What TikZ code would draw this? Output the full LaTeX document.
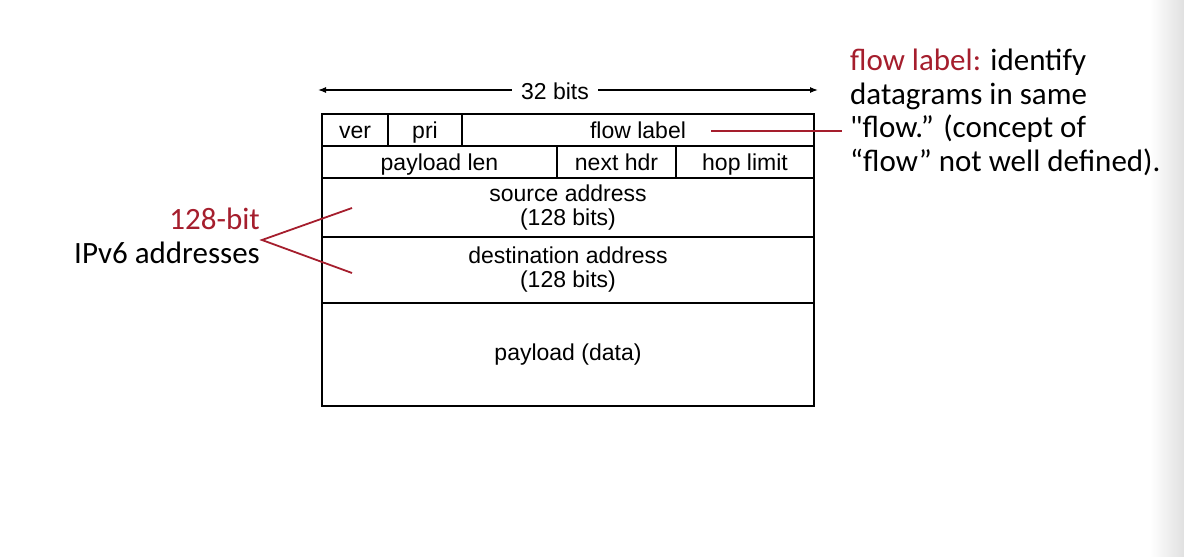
\documentclass[tikz,border=0pt]{standalone}
\usepackage{fontspec}
\setmainfont{Liberation Sans}
\newfontfamily\notefont{Carlito}
\usetikzlibrary{positioning,arrows.meta}
\definecolor{flowred}{RGB}{165,30,45}
\tikzset{field/.style={draw, line width=1.8pt, inner sep=0pt, outer sep=0pt, align=center,
		font=\fontsize{23}{24}\selectfont},
	cell/.style={minimum height=32pt, text height=18pt, text depth=1pt},
	note/.style={inner sep=0pt, align=left, font=\notefont\fontsize{31}{33.5}\selectfont},
	pointer/.style={draw=flowred, line width=1.8pt}}

\begin{document}
\begin{tikzpicture}[x=1pt, y=-1pt]
	\useasboundingbox (0,0) rectangle (1184,557);
	\shade[left color=white, right color=black!12] (1150,0) rectangle (1184,557);

	\node[font=\fontsize{23}{24}\selectfont, inner sep=9pt] (bits) at (555,91) {32 bits};
	\coordinate (bitsL) at (318,90);
	\coordinate (bitsR) at (818,90);
	\draw[-{Latex[length=8pt,width=6pt]}, line width=1.2pt] (bits.west |- bitsL) -- (bitsL);
	\draw[-{Latex[length=8pt,width=6pt]}, line width=1.2pt] (bits.east |- bitsR) -- (bitsR);

	\node[field, cell, minimum width=66pt, anchor=north west] (ver) at (322,114) {ver};
	\node[field, cell, minimum width=74pt, right=0pt of ver] (pri) {pri};
	\node[field, cell, minimum width=352pt, right=0pt of pri] (flow) {flow label};

	\node[field, cell, minimum width=235pt, anchor=north west] (len) at (ver.south west) {payload len};
	\node[field, cell, minimum width=119pt, right=0pt of len] (next) {next hdr};
	\node[field, cell, minimum width=138pt, right=0pt of next] (hop) {hop limit};

	\node[field, minimum width=492pt, minimum height=59pt, anchor=north west] (src) at (len.south west)
		{source address\\(128 bits)};
	\node[field, minimum width=492pt, minimum height=66pt, anchor=north west] (dst) at (src.south west)
		{destination address\\(128 bits)};
	\node[field, minimum width=492pt, minimum height=103pt, anchor=north west] (data) at (dst.south west)
		{payload (data)};

	\node[note, anchor=base west] (flownote) at (850,171)
		{\textcolor{flowred}{flow label:} identify\\datagrams in same\\"flow.” (concept of\\“flow” not well defined).};
	\coordinate (flowtip) at (711,131);
	\draw[pointer] (flowtip) -- ([xshift=-8pt]flownote.west |- flowtip);

	\node[note, anchor=base east, text=flowred] (bitlen) at (260,229) {128-bit};
	\node[note, anchor=base east] (addrs) at (260,263) {IPv6 addresses};
	\coordinate (fork) at (262,240);
	\coordinate (srcpt) at (352,208);
	\coordinate (dstpt) at (352,273);
	\draw[pointer] (srcpt) -- (fork) -- (dstpt);
\end{tikzpicture}
\end{document}
